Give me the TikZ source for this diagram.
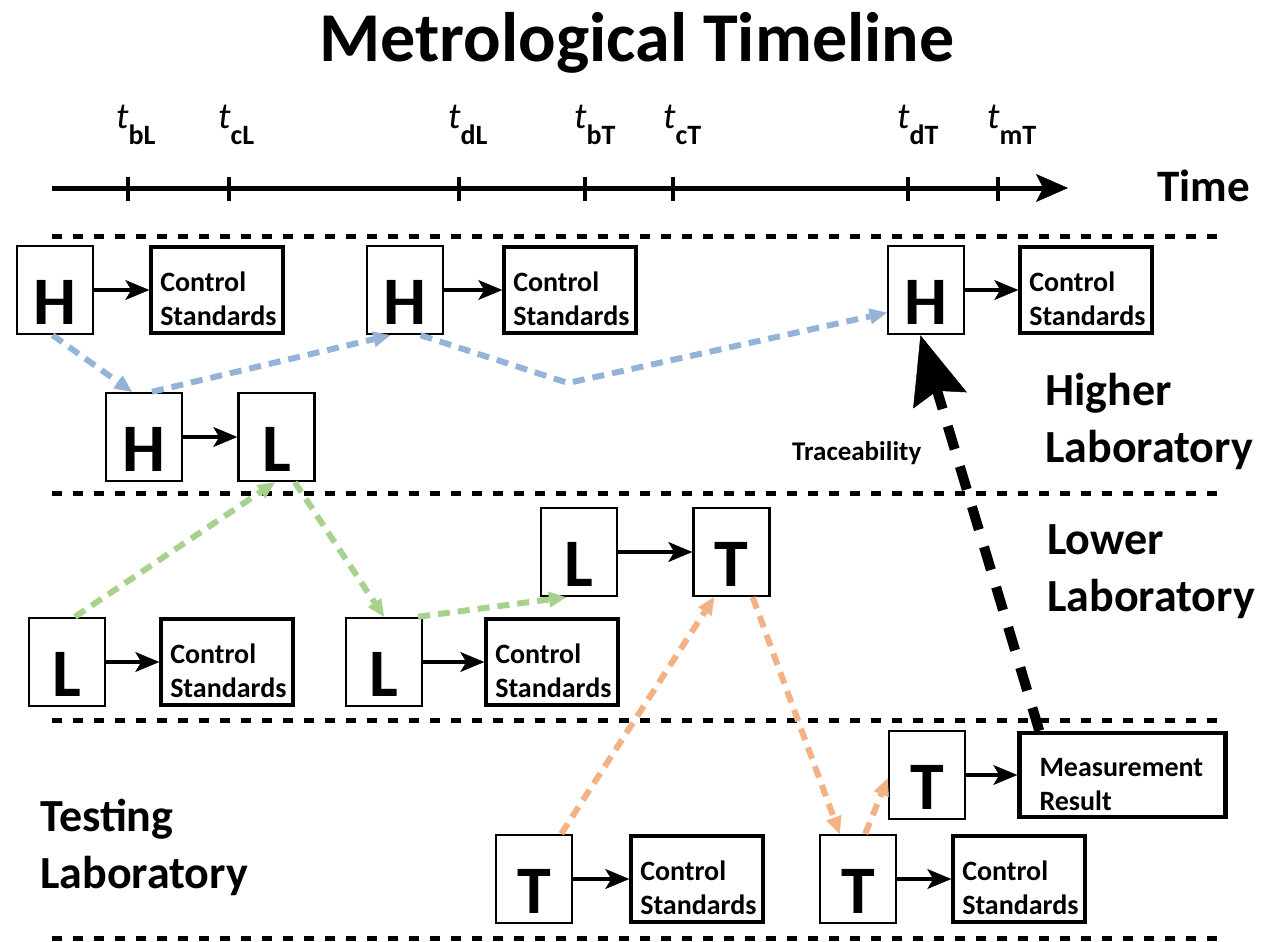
\documentclass[tikz,border=0pt]{standalone}
\usepackage{fontspec}
\setmainfont{Carlito}
\usetikzlibrary{arrows.meta,positioning}

\definecolor{hblue}{RGB}{149,179,215}
\definecolor{lgreen}{RGB}{169,209,142}
\definecolor{torange}{RGB}{244,177,131}

\newcommand{\tsym}[1]{\textit{t}\raisebox{-17pt}{\fontsize{28}{28}\selectfont\bfseries #1}}

\begin{document}
\begin{tikzpicture}[x=1pt, y=-1pt, >=latex, node distance=56pt]
\tikzset{
  letter/.style = {rectangle, draw, line width=2.5pt, minimum width=76pt, minimum height=88pt, inner sep=0pt, text height=68pt, text depth=0pt, font=\fontsize{68}{68}\selectfont\bfseries},
  ctrl/.style = {rectangle, draw, line width=4pt, minimum width=132pt, minimum height=86pt, inner xsep=9pt, inner ysep=0pt, text width=114pt, align=left, font=\fontsize{28}{34}\selectfont\bfseries, execute at begin node=\rule{0pt}{37pt}},
  lab/.style = {align=left, anchor=base west, inner sep=0pt, font=\fontsize{46}{57}\selectfont\bfseries},
  tlab/.style = {anchor=base west, inner sep=0pt, font=\fontsize{37}{37}\selectfont},
  lane/.style = {line width=5pt, dash pattern=on 10pt off 11pt},
  link/.style = {line width=4pt, -{Stealth[length=24pt, width=20pt, inset=6pt, line width=0.5pt]}},
  hlink/.style = {draw=hblue, line width=6pt, dash pattern=on 12pt off 8pt, -{Triangle[length=17pt, width=16pt, line width=0.5pt]}},
  glink/.style = {hlink, draw=lgreen},
  olink/.style = {hlink, draw=torange},
  trace/.style = {line width=10pt, dash pattern=on 24pt off 18pt, -{Stealth[length=68pt, width=56pt, inset=10pt, line width=0.5pt]}}
}
\useasboundingbox (0,0) rectangle (1266,942);

% Title and time axis
\node[anchor=base, font=\fontsize{70}{70}\selectfont\bfseries] (title) at (637,62) {Metrological Timeline};
\coordinate (tstart) at (52,188);
\coordinate (tend) at (1068,188);
\draw[line width=5pt, -{Stealth[length=32pt, width=28pt, inset=7pt, line width=0.5pt]}] (tstart) -- (tend);
\node[lab, font=\fontsize{45}{45}\selectfont\bfseries] (time) at (1157,201) {Time};

% Ticks and instants
\draw[line width=4pt] (128,177) -- (128,201);
\draw[line width=4pt] (229,177) -- (229,201);
\draw[line width=4pt] (459,177) -- (459,201);
\draw[line width=4pt] (585,177) -- (585,201);
\draw[line width=4pt] (673,177) -- (673,201);
\draw[line width=4pt] (908,177) -- (908,201);
\draw[line width=4pt] (998,177) -- (998,201);
\node[tlab] (tbL) at (116,128) {\tsym{bL}};
\node[tlab] (tcL) at (218,128) {\tsym{cL}};
\node[tlab] (tdL) at (448,128) {\tsym{dL}};
\node[tlab] (tbT) at (574,128) {\tsym{bT}};
\node[tlab] (tcT) at (663,128) {\tsym{cT}};
\node[tlab] (tdT) at (897,128) {\tsym{dT}};
\node[tlab] (tmT) at (987,128) {\tsym{mT}};

% Lane borders
\draw[lane] (52,236) -- (1228,236);
\draw[lane] (52,493) -- (1228,493);
\draw[lane] (52,720) -- (1228,720);
\draw[lane] (52,938) -- (1228,938);

% Higher laboratory
\node[letter] (H1) at (55,290) {H};
\node[ctrl, right=55pt of H1] (CS1) {Control\\Standards};
\node[letter] (H2) at (405,290) {H};
\node[ctrl, right=58pt of H2] (CS2) {Control\\Standards};
\node[letter] (H3) at (926,290) {H};
\node[ctrl, right=53pt of H3] (CS3) {Control\\Standards};
\node[letter] (H4) at (144,437) {H};
\node[letter, right=54pt of H4] (L1) {L};
\node[lab] (hlab) at (1045,462) {Higher\\Laboratory};

% Lower laboratory
\node[letter] (Lu) at (579,552) {L};
\node[letter, right=74pt of Lu] (Tu) {T};
\node[letter] (L2) at (67,662) {L};
\node[ctrl, right=53pt of L2] (CS4) {Control\\Standards};
\node[letter] (L3) at (384,662) {L};
\node[ctrl, right=61pt of L3] (CS5) {Control\\Standards};
\node[lab] (llab) at (1047,611) {Lower\\Laboratory};

% Testing laboratory
\node[letter] (Ta) at (927,775) {T};
\node[ctrl, right=51pt of Ta, minimum width=206pt, minimum height=84pt, inner xsep=20pt, text width=166pt, line width=4.5pt] (MR) {Measurement\\Result};
\node[letter] (Tb) at (534,879) {T};
\node[ctrl, right=56pt of Tb] (CS6) {Control\\Standards};
\node[letter] (Tc) at (858,879) {T};
\node[ctrl, right=54pt of Tc] (CS7) {Control\\Standards};
\node[lab] (tlab) at (40,888) {Testing\\Laboratory};

% Edges
\draw[link] (H1) -- (CS1);
\draw[link] (H2) -- (CS2);
\draw[link] (H3) -- (CS3);
\draw[link] (H4) -- (L1);
\draw[link] (Lu) -- (Tu);
\draw[link] (L2) -- (CS4);
\draw[link] (L3) -- (CS5);
\draw[link] (Ta) -- (MR);
\draw[link] (Tb) -- (CS6);
\draw[link] (Tc) -- (CS7);

% Calibration chains
\coordinate (hbend) at (568,383);
\draw[hlink] (H1.-93) -- (H4.105);
\draw[hlink] (H4.80) -- (H2.-108);
\draw[hlink] (H2.-71) -- (hbend) -- (H3.210);
\draw[glink] (L2.80) -- (L1.-92);
\draw[glink] (L1.-68) -- (L3.north);
\draw[glink] (L3.53) -- (Lu.-106);
\draw[olink] (Tb.59) -- (Tu.-111);
\draw[olink] (Tu.-65) -- (Tc.112);
\draw[olink] (Tc.81) -- (Ta.185);

% Traceability
\draw[trace] ([xshift=22pt]MR.north west) -- (H3.-97);
\node[anchor=base west, inner sep=0pt, font=\fontsize{27}{27}\selectfont\bfseries] (tr) at (792,460) {Traceability};

\end{tikzpicture}
\end{document}
